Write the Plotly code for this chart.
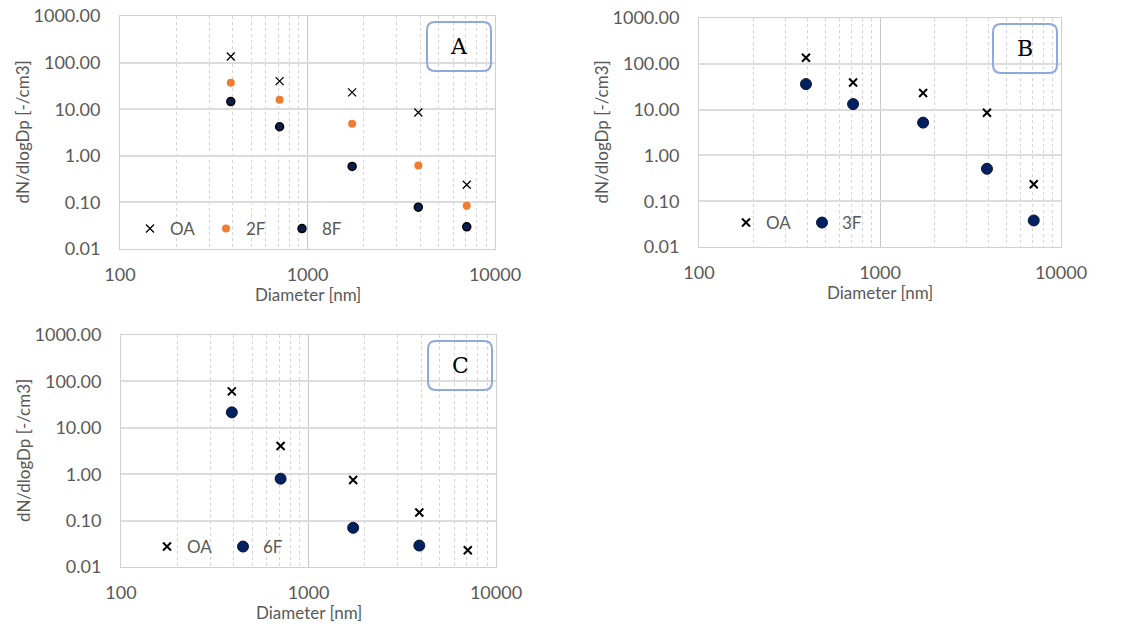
import plotly.graph_objects as go

# ---- data ----
diameter = [390, 710, 1730, 3900, 7070]

a_oa = [135, 40, 23, 8.5, 0.24]
a_2f = [37, 16, 4.9, 0.62, 0.085]
a_8f = [14.6, 4.2, 0.59, 0.079, 0.030]

b_oa = [136, 39, 23, 8.5, 0.234]
b_3f = [36, 13.2, 5.2, 0.51, 0.038]

c_oa = [61, 4.05, 0.75, 0.15, 0.023]
c_6f_x = [390, 710, 1730, 3900]
c_6f = [21.5, 0.80, 0.070, 0.029]

panel_labels = ["A", "B", "C"]
y_ticks = [0.01, 0.1, 1, 10, 100, 1000]
x_ticks = [100, 1000, 10000]
x_ticktext = ["100", "1000", "10000"]

W, H = 1127, 626
FONT = "Lato, 'Open Sans', sans-serif"
GRAY = "#595959"
NAVY = "#002060"
ORANGE = "#ED7D31"

# plot-area rectangles in pixels: (left, top, right, bottom)
rects = {
    "A": (120, 16, 495, 249),
    "B": (699, 18, 1061, 247),
    "C": (121, 335, 496, 567),
}

def dom(r):
    l, t, rr, b = r
    return [l / W, rr / W], [1 - b / H, 1 - t / H]

fig = go.Figure()

def x_marker(size, width):
    return dict(symbol="x-thin", size=size, color="black",
                line=dict(color="black", width=width))

# Panel A
fig.add_trace(go.Scatter(x=diameter, y=a_oa, mode="markers", name="OA",
                         marker=x_marker(8, 1.3), xaxis="x", yaxis="y", legend="legend"))
fig.add_trace(go.Scatter(x=diameter, y=a_2f, mode="markers", name="2F",
                         marker=dict(symbol="circle", size=8, color=ORANGE, line=dict(width=0)),
                         xaxis="x", yaxis="y", legend="legend"))
fig.add_trace(go.Scatter(x=diameter, y=a_8f, mode="markers", name="8F",
                         marker=dict(symbol="circle", size=8, color="#0b1f4a",
                                     line=dict(color="black", width=1.5)),
                         xaxis="x", yaxis="y", legend="legend"))
# Panel B
fig.add_trace(go.Scatter(x=diameter, y=b_oa, mode="markers", name="OA",
                         marker=x_marker(8, 2), xaxis="x2", yaxis="y2", legend="legend2"))
fig.add_trace(go.Scatter(x=diameter, y=b_3f, mode="markers", name="3F",
                         marker=dict(symbol="circle", size=11, color=NAVY,
                                     line=dict(color="#0a1430", width=1)),
                         xaxis="x2", yaxis="y2", legend="legend2"))
# Panel C
fig.add_trace(go.Scatter(x=diameter, y=c_oa, mode="markers", name="OA",
                         marker=x_marker(8, 2), xaxis="x3", yaxis="y3", legend="legend3"))
fig.add_trace(go.Scatter(x=c_6f_x, y=c_6f, mode="markers", name="6F",
                         marker=dict(symbol="circle", size=11, color=NAVY,
                                     line=dict(color="#0a1430", width=1)),
                         xaxis="x3", yaxis="y3", legend="legend3"))

layout = dict(
    width=W, height=H,
    margin=dict(l=0, r=0, t=0, b=0, autoexpand=False),
    paper_bgcolor="white", plot_bgcolor="white",
    font=dict(family=FONT, size=17, color=GRAY),
    showlegend=True,
)

annotations = []
shapes = []
for i, key in enumerate(["A", "B", "C"]):
    sfx = "" if i == 0 else str(i + 1)
    xd, yd = dom(rects[key])
    layout["xaxis" + sfx] = dict(
        domain=xd, anchor="y" + sfx, type="log", range=[2, 4],
        tickvals=x_ticks, ticktext=x_ticktext, automargin=False,
        showgrid=True, gridcolor="#c8c8c8", gridwidth=1,
        showline=True, linecolor="#d0d0d0", linewidth=1, mirror=True,
        ticks="", ticklabelstandoff=9, zeroline=False,
        tickfont=dict(size=18, color=GRAY),
        minor=dict(tickvals=[200, 300, 400, 500, 600, 700, 800, 900,
                             2000, 3000, 4000, 5000, 6000, 7000, 8000, 9000],
                   showgrid=True, gridcolor="#d4d4d4", griddash="dot", gridwidth=1),
    )
    layout["yaxis" + sfx] = dict(
        domain=yd, anchor="x" + sfx, type="log", range=[-2, 3],
        tickvals=y_ticks, tickformat=".2f", automargin=False,
        showgrid=True, gridcolor="#dcdcdc", gridwidth=1.5,
        showline=True, linecolor="#d0d0d0", linewidth=1, mirror=True,
        ticks="", ticklabelstandoff=15, zeroline=False,
        tickfont=dict(size=18, color=GRAY),
    )
    l, t, r, b = rects[key]
    # axis titles
    annotations.append(dict(text="Diameter [nm]", x=(l + r) / 2 / W, y=1 - (b + 45) / H,
                            xref="paper", yref="paper", showarrow=False,
                            xanchor="center", yanchor="middle",
                            font=dict(size=17, color=GRAY)))
    annotations.append(dict(text="dN/dlogDp [-/cm3]", x=(l - 98) / W, y=1 - (t + b) / 2 / H,
                            xref="paper", yref="paper", showarrow=False, textangle=-90,
                            xanchor="center", yanchor="middle",
                            font=dict(size=17, color=GRAY)))
    # panel label box (rounded rectangle)
    bx0, bx1 = r - 68, r - 4
    by0, by1 = t + 6, t + 55
    rad = 8
    def px(x): return x / W
    def py(y): return 1 - y / H
    path = (f"M {px(bx0+rad)},{py(by0)} L {px(bx1-rad)},{py(by0)} "
            f"Q {px(bx1)},{py(by0)} {px(bx1)},{py(by0+rad)} "
            f"L {px(bx1)},{py(by1-rad)} Q {px(bx1)},{py(by1)} {px(bx1-rad)},{py(by1)} "
            f"L {px(bx0+rad)},{py(by1)} Q {px(bx0)},{py(by1)} {px(bx0)},{py(by1-rad)} "
            f"L {px(bx0)},{py(by0+rad)} Q {px(bx0)},{py(by0)} {px(bx0+rad)},{py(by0)} Z")
    shapes.append(dict(type="path", path=path, xref="paper", yref="paper",
                       line=dict(color="#8eaadb", width=2)))
    annotations.append(dict(text=panel_labels[i], x=(bx0 + bx1) / 2 / W, y=1 - (by0 + by1) / 2 / H,
                            xref="paper", yref="paper", showarrow=False,
                            xanchor="center", yanchor="middle",
                            font=dict(family="'DejaVu Serif', 'Liberation Serif', serif",
                                      size=22, color="black")))

legend_pos = {"legend": (130, 229), "legend2": (726, 223), "legend3": (147, 547)}
for name, (lx, ly) in legend_pos.items():
    layout[name] = dict(orientation="h", x=lx / W, y=1 - ly / H, xanchor="left", yanchor="middle",
                        xref="paper", yref="paper", bgcolor="rgba(0,0,0,0)",
                        entrywidth=31, entrywidthmode="pixels", itemwidth=30,
                        font=dict(size=17, color=GRAY))

layout["annotations"] = annotations
layout["shapes"] = shapes
fig.update_layout(**layout)
fig.write_html("out.html")
